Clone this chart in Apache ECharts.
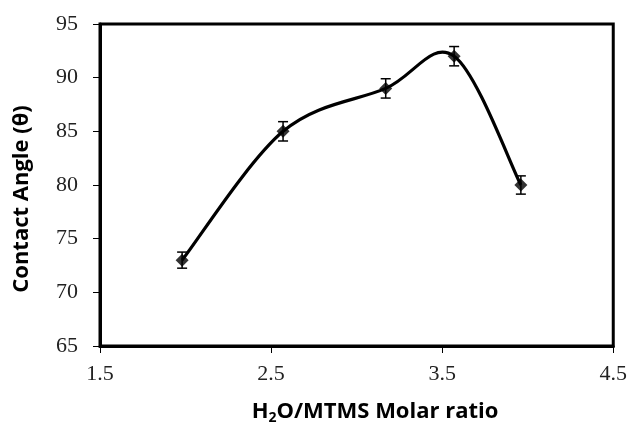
<!DOCTYPE html>
<html><head><meta charset="utf-8">
<script src="https://cdn.jsdelivr.net/npm/echarts@6/dist/echarts.min.js"></script>
<style>html,body{margin:0;padding:0;background:#fff}#c{width:630px;height:425px}</style>
</head><body><div id="c"></div>
<script>
const xValues = [1.98, 2.57, 3.17, 3.57, 3.96];
const yValues = [73, 85, 89, 92, 80];
const yErrors = [0.75, 0.9, 0.9, 0.9, 0.85];
const xTicks = [1.5, 2.5, 3.5, 4.5];
const yTicks = [65, 70, 75, 80, 85, 90, 95];

const chart = echarts.init(document.getElementById('c'));
const pointData = xValues.map((x, i) => [x, yValues[i]]);
const errData = xValues.map((x, i) => [x, yValues[i] - yErrors[i], yValues[i] + yErrors[i]]);
const serif = '"Liberation Serif", "Times New Roman", serif';
const sans = '"Open Sans", "Liberation Sans", sans-serif';

// Smoothed curve (Catmull-Rom style bezier, like spreadsheet smoothing) through data points via axis scales
function renderCurve(params, api) {
  if (params.dataIndex !== 0) return null;
  const pts = pointData.map(p => api.coord(p));
  const n = pts.length;
  let path = 'M' + pts[0][0] + ' ' + pts[0][1];
  for (let i = 0; i < n - 1; i++) {
    const p0 = pts[Math.max(i - 1, 0)], p1 = pts[i], p2 = pts[i + 1], p3 = pts[Math.min(i + 2, n - 1)];
    const c1 = [p1[0] + (p2[0] - p0[0]) / 6, p1[1] + (p2[1] - p0[1]) / 6];
    const c2 = [p2[0] - (p3[0] - p1[0]) / 6, p2[1] - (p3[1] - p1[1]) / 6];
    path += ' C' + c1[0] + ' ' + c1[1] + ' ' + c2[0] + ' ' + c2[1] + ' ' + p2[0] + ' ' + p2[1];
  }
  return {type: 'path', shape: {pathData: path}, style: {stroke: '#000', lineWidth: 3.2, fill: null, lineJoin: 'round'}};
}

chart.setOption({
  animation: false,
  grid: {left: 100, right: 14, top: 24, bottom: 79, show: true, borderColor: '#000', borderWidth: 3, backgroundColor: 'transparent'},
  xAxis: {
    type: 'value', min: xTicks[0], max: xTicks[xTicks.length - 1], interval: 1,
    axisLine: {show: true, lineStyle: {color: '#000', width: 3}},
    axisTick: {show: true, length: 7, lineStyle: {color: '#000', width: 1}},
    axisLabel: {color: '#222', fontFamily: serif, fontSize: 22, margin: 17, formatter: v => v.toFixed(1)},
    splitLine: {show: false}
  },
  yAxis: {
    type: 'value', min: yTicks[0], max: yTicks[yTicks.length - 1], interval: 5,
    axisLine: {show: true, lineStyle: {color: '#000', width: 3}},
    axisTick: {show: true, length: 7, lineStyle: {color: '#000', width: 1}},
    axisLabel: {color: '#222', fontFamily: serif, fontSize: 22, margin: 22},
    splitLine: {show: false}
  },
  graphic: [
    {type: 'text', x: 375, y: 412,
      style: {text: '{a|H}{s|2}{a|O/MTMS Molar ratio}', align: 'center', verticalAlign: 'middle', rich: {
        a: {fontFamily: sans, fontWeight: 'bold', fontSize: 22, fill: '#000'},
        s: {fontFamily: sans, fontWeight: 'bold', fontSize: 14, fill: '#000', padding: [12, 0, 0, 0]}
      }}},
    {type: 'text', x: 22, y: 199, rotation: Math.PI / 2,
      style: {text: 'Contact Angle (θ)', align: 'center', verticalAlign: 'middle', fontFamily: sans, fontWeight: 'bold', fontSize: 22, fill: '#000'}}
  ],
  series: [
    {type: 'custom', data: pointData, renderItem: renderCurve, z: 2, silent: true},
    {
      type: 'scatter', data: pointData,
      symbol: 'diamond', symbolSize: 13,
      itemStyle: {color: '#000'}, z: 3
    },
    {
      type: 'custom', data: errData, z: 4,
      renderItem: (params, api) => {
        const x = api.value(0);
        const lo = api.coord([x, api.value(1)]);
        const hi = api.coord([x, api.value(2)]);
        const w = 5;
        const st = {stroke: '#000', lineWidth: 1.5};
        return {type: 'group', children: [
          {type: 'line', shape: {x1: lo[0], y1: lo[1], x2: hi[0], y2: hi[1]}, style: st},
          {type: 'line', shape: {x1: lo[0] - w, y1: lo[1], x2: lo[0] + w, y2: lo[1]}, style: st},
          {type: 'line', shape: {x1: hi[0] - w, y1: hi[1], x2: hi[0] + w, y2: hi[1]}, style: st}
        ]};
      }
    }
  ]
});
</script></body></html>
